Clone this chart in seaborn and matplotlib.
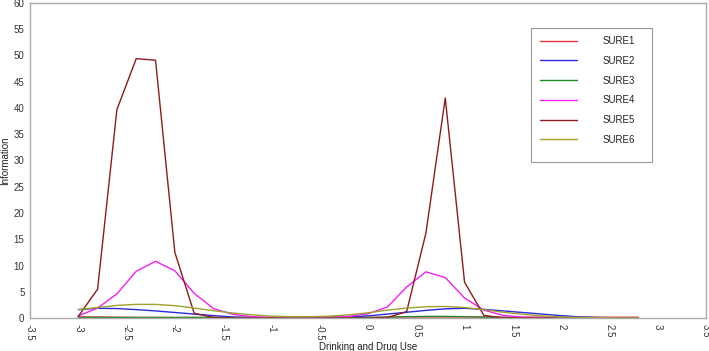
import matplotlib
matplotlib.use("Agg")
import matplotlib.pyplot as plt
from matplotlib.patches import Rectangle
import seaborn as sns
import pandas as pd

theta = [-3.0, -2.8, -2.6, -2.4, -2.2, -2.0, -1.8, -1.6, -1.4, -1.2,
         -1.0, -0.8, -0.6, -0.4, -0.2, 0.0, 0.2, 0.4, 0.6, 0.8,
         1.0, 1.2, 1.4, 1.6, 1.8, 2.0, 2.2, 2.4, 2.6, 2.8]

sure1 = [0.2, 0.2, 0.15, 0.1, 0.1, 0.1, 0.1, 0.1, 0.1, 0.1,
         0.1, 0.1, 0.1, 0.1, 0.1, 0.1, 0.15, 0.2, 0.2, 0.2,
         0.2, 0.2, 0.15, 0.15, 0.15, 0.15, 0.15, 0.15, 0.15, 0.15]
sure2 = [1.6, 1.85, 1.8, 1.6, 1.35, 1.05, 0.75, 0.45, 0.2, 0.08,
         0.03, 0.02, 0.03, 0.08, 0.2, 0.4, 0.75, 1.1, 1.45, 1.75,
         1.85, 1.65, 1.35, 1.05, 0.75, 0.45, 0.2, 0.08, 0.03, 0.01]
sure3 = [0.1, 0.1, 0.1, 0.1, 0.1, 0.1, 0.1, 0.1, 0.05, 0.05,
         0.05, 0.05, 0.05, 0.05, 0.05, 0.1, 0.15, 0.25, 0.3, 0.3,
         0.25, 0.15, 0.1, 0.05, 0.05, 0.05, 0.05, 0.05, 0.05, 0.05]
sure4 = [0.4, 1.9, 4.6, 8.9, 10.8, 9.0, 4.7, 1.8, 0.7, 0.25,
         0.1, 0.05, 0.1, 0.15, 0.3, 0.8, 2.1, 5.9, 8.8, 7.7,
         3.8, 1.5, 0.5, 0.15, 0.05, 0.0, 0.0, 0.0, 0.0, 0.0]
sure5 = [0.3, 5.5, 39.7, 49.4, 49.1, 12.5, 0.9, 0.1, 0.0, 0.0,
         0.0, 0.0, 0.0, 0.0, 0.0, 0.0, 0.1, 1.2, 16.2, 41.9,
         6.8, 0.5, 0.0, 0.0, 0.0, 0.0, 0.0, 0.0, 0.0, 0.0]
sure6 = [1.6, 2.0, 2.4, 2.6, 2.6, 2.35, 1.9, 1.4, 0.95, 0.6,
         0.35, 0.25, 0.25, 0.35, 0.6, 1.0, 1.5, 1.9, 2.15, 2.2,
         2.0, 1.6, 1.1, 0.7, 0.4, 0.2, 0.1, 0.05, 0.02, 0.01]

series_names = ["SURE1", "SURE2", "SURE3", "SURE4", "SURE5", "SURE6"]
colors = ["#f0303a", "#2a2ad8", "#1f8a2a", "#f020f0", "#8b1c1c", "#a0a030"]
x_ticks = [-3.5, -3, -2.5, -2, -1.5, -1, -0.5, 0, 0.5, 1, 1.5, 2, 2.5, 3, 3.5]
x_tick_labels = ["-3.5", "-3", "-2.5", "-2", "-1.5", "-1", "-0.5", "0", "0.5",
                 "1", "1.5", "2", "2.5", "3", "3.5"]
y_ticks = [0, 5, 10, 15, 20, 25, 30, 35, 40, 45, 50, 55, 60]

rows = []
for name, vals in zip(series_names, [sure1, sure2, sure3, sure4, sure5, sure6]):
    for t, v in zip(theta, vals):
        rows.append({"Theta": t, "Information": v, "Item": name})
df = pd.DataFrame(rows)

sns.set_style("white")
plt.rcParams["font.family"] = ["Liberation Sans", "DejaVu Sans"]

fig = plt.figure(figsize=(7.09, 3.51), dpi=100)
ax = fig.add_axes([0.0423, 0.094, 0.9535, 0.8975])

sns.lineplot(data=df, x="Theta", y="Information", hue="Item",
             palette=dict(zip(series_names, colors)), linewidth=1.0,
             ax=ax, legend=False)

ax.set_xlim(-3.5, 3.5)
ax.set_ylim(0, 60)
ax.set_xticks(x_ticks)
ax.set_xticklabels(x_tick_labels, rotation=270, fontsize=7, color="#333333")
ax.set_yticks(y_ticks)
ax.set_yticklabels([str(v) for v in y_ticks], fontsize=7, color="#333333")
ax.tick_params(axis="both", length=3, width=0.8, color="#999999", pad=1)
for s in ax.spines.values():
    s.set_color("#aaaaaa")
    s.set_linewidth(1.0)
ax.set_xlabel("Drinking and Drug Use", fontsize=7, color="#222222")
ax.set_ylabel("Information", fontsize=7, color="#222222")
ax.xaxis.set_label_coords(0.5, -0.076)
ax.yaxis.set_label_coords(-0.03, 0.5)

# legend frame
ax.add_patch(Rectangle((0.741, 0.495), 0.179, 0.426, transform=ax.transAxes,
                       facecolor="white", edgecolor="#999999", linewidth=0.8,
                       zorder=5))
handles = [plt.Line2D([], [], color=c, lw=1.0) for c in colors]
leg = ax.legend(handles, series_names, loc="upper left",
                bbox_to_anchor=(0.7544, 0.895), frameon=False,
                fontsize=7, handlelength=3.8, handletextpad=2.6,
                labelspacing=1.0, borderpad=0, borderaxespad=0)
leg.set_zorder(6)
for t in leg.get_texts():
    t.set_color("#222222")

fig.savefig("out.png", dpi=100)
